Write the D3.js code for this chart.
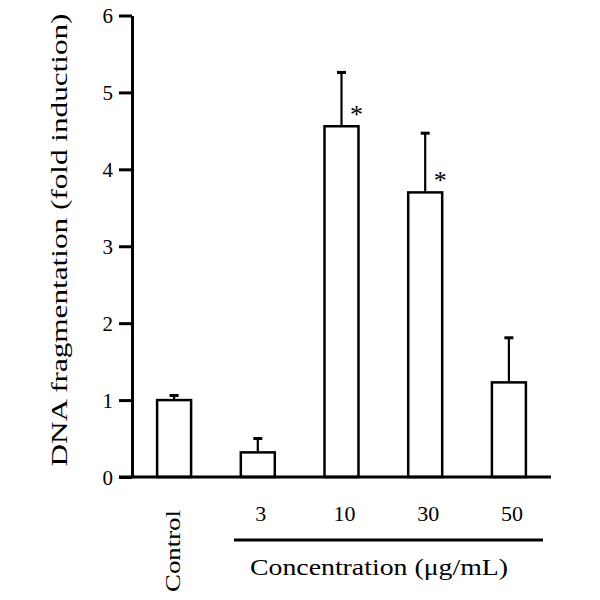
<!DOCTYPE html>
<html>
<head>
<meta charset="utf-8">
<script src="https://cdn.jsdelivr.net/npm/d3@7"></script>
<style>
  html, body { margin: 0; padding: 0; background: #fff; }
  text { font-family: "Liberation Serif", "DejaVu Serif", serif; fill: #000; }
</style>
</head>
<body>
<svg id="chart" width="600" height="600"></svg>
<script>
const categories = ["Control", "3", "10", "30", "50"];
const means = [1.00, 0.32, 4.56, 3.70, 1.23];
const errors = [0.06, 0.18, 0.70, 0.77, 0.58];
const significant = [false, false, true, true, false];
const yTicks = [0, 1, 2, 3, 4, 5, 6];
const yLabel = "DNA fragmentation (fold induction)";
const xLabel = "Concentration (\u03bcg/mL)";

const svg = d3.select("#chart");

const x = d3.scaleBand().domain(categories).range([132, 551])
  .paddingInner(0.594).paddingOuter(0.3);
const y = d3.scaleLinear().domain([0, 6]).range([477, 15.5]);

// bars
svg.selectAll("rect.bar").data(categories).enter().append("rect")
  .attr("class", "bar")
  .attr("x", d => x(d))
  .attr("y", (d, i) => y(means[i]))
  .attr("width", x.bandwidth())
  .attr("height", (d, i) => y(0) - y(means[i]))
  .attr("fill", "#fff").attr("stroke", "#000").attr("stroke-width", 2.5);

// error bars (upward only)
const cx = d => x(d) + x.bandwidth() / 2;
svg.selectAll("line.err").data(categories).enter().append("line")
  .attr("x1", cx).attr("x2", cx)
  .attr("y1", (d, i) => y(means[i]))
  .attr("y2", (d, i) => y(means[i] + errors[i]))
  .attr("stroke", "#000").attr("stroke-width", 2.2);
svg.selectAll("line.cap").data(categories).enter().append("line")
  .attr("x1", d => cx(d) - 4.5).attr("x2", d => cx(d) + 4.5)
  .attr("y1", (d, i) => y(means[i] + errors[i]))
  .attr("y2", (d, i) => y(means[i] + errors[i]))
  .attr("stroke", "#000").attr("stroke-width", 3);

// significance stars
svg.selectAll("text.star").data(categories.filter((d, i) => significant[i])).enter()
  .append("text")
  .attr("x", d => cx(d) + 15)
  .attr("y", d => y(means[categories.indexOf(d)]) - 3)
  .attr("text-anchor", "middle")
  .attr("font-size", 26)
  .text("*");

// y axis
const yAxis = d3.axisLeft(y).tickValues(yTicks).tickSize(13).tickSizeOuter(0).tickPadding(6)
  .tickFormat(d3.format("d"));
const gy = svg.append("g").attr("transform", "translate(132,0)").call(yAxis);
gy.attr("font-family", null);
gy.select(".domain").attr("stroke-width", 3);
gy.selectAll(".tick line").attr("stroke-width", 3);
gy.selectAll(".tick text").attr("font-size", 21)
  .style("font-family", "'Liberation Serif', serif").attr("dy", "0.34em");

// x axis line
svg.append("line").attr("x1", 119).attr("x2", x.range()[1])
  .attr("y1", y(0)).attr("y2", y(0))
  .attr("stroke", "#000").attr("stroke-width", 3);

// x category labels
categories.forEach((c, i) => {
  if (i === 0) {
    svg.append("text")
      .attr("transform", `translate(${cx(c) + 6},${551}) rotate(-90)`)
      .attr("text-anchor", "middle")
      .attr("font-size", 22)
      .attr("textLength", 82).attr("lengthAdjust", "spacingAndGlyphs")
      .text(c);
  } else {
    svg.append("text")
      .attr("x", cx(c) + 3).attr("y", 521)
      .attr("text-anchor", "middle")
      .attr("font-size", 22)
      .text(c);
  }
});

// concentration bracket line
svg.append("line").attr("x1", 234).attr("x2", 543)
  .attr("y1", 540).attr("y2", 540)
  .attr("stroke", "#000").attr("stroke-width", 3);

svg.append("text")
  .attr("x", 379).attr("y", 575)
  .attr("text-anchor", "middle")
  .attr("font-size", 23)
  .attr("textLength", 258).attr("lengthAdjust", "spacingAndGlyphs")
  .text(xLabel);

// y label
svg.append("text")
  .attr("transform", "translate(67,240) rotate(-90)")
  .attr("text-anchor", "middle")
  .attr("font-size", 23)
  .attr("textLength", 453).attr("lengthAdjust", "spacingAndGlyphs")
  .text(yLabel);
</script>
</body>
</html>
